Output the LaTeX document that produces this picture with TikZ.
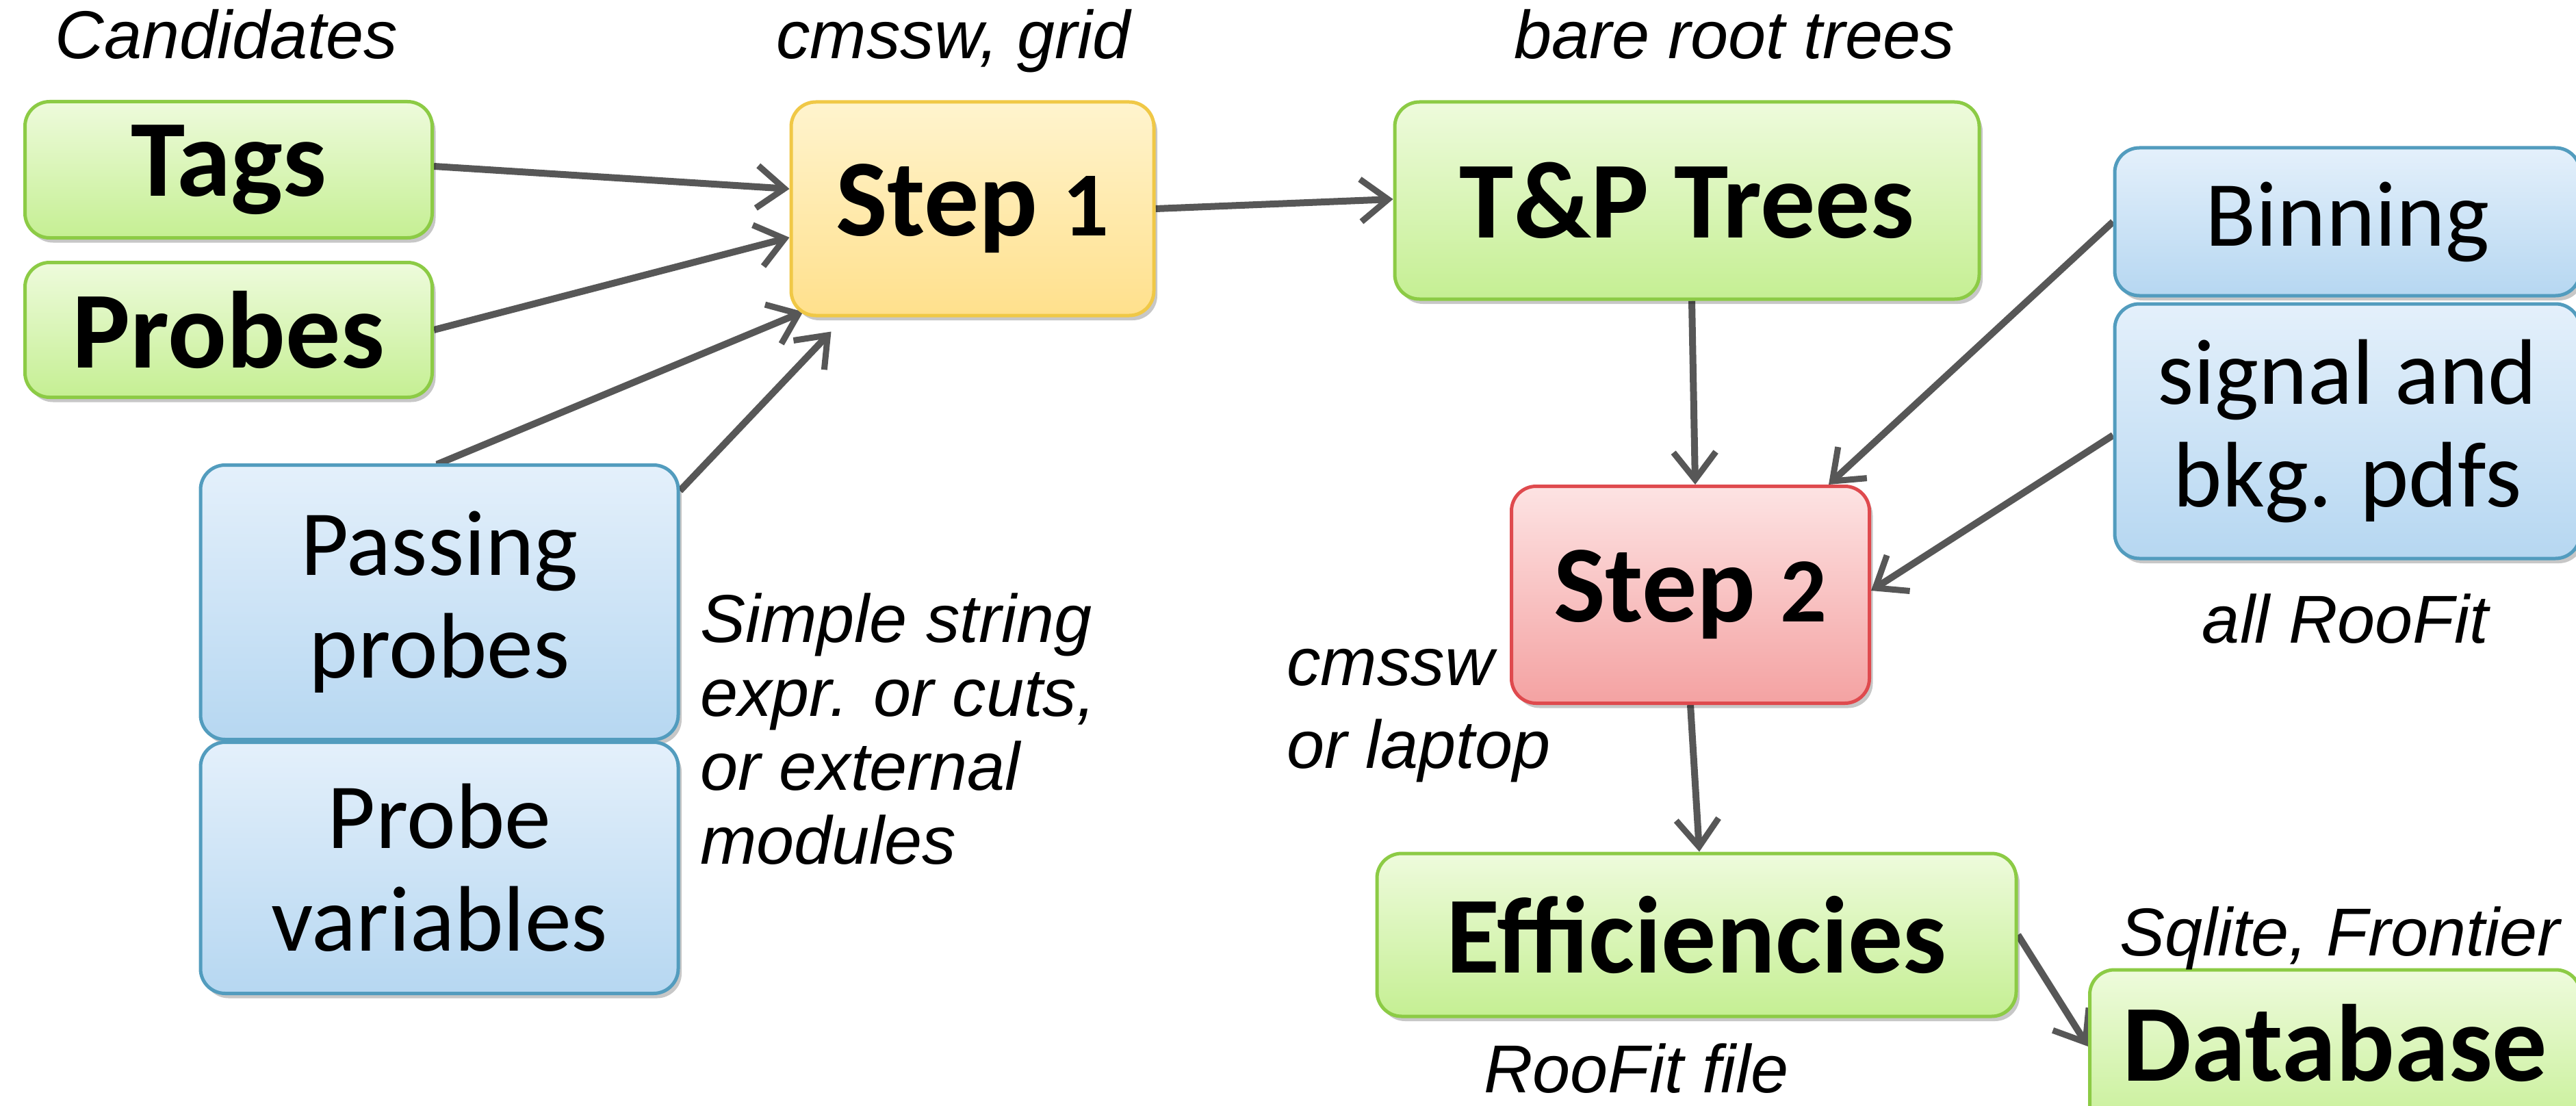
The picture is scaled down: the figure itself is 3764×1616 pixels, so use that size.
\documentclass[tikz,border=0pt]{standalone}
\usepackage{fontspec}
\setmainfont{Carlito}
\newfontfamily\annfont{Liberation Sans}
\usetikzlibrary{arrows.meta,shadows,backgrounds}
\definecolor{gT}{HTML}{EEFBDC}\definecolor{gB}{HTML}{C5EF93}\definecolor{gL}{HTML}{8CCB45}
\definecolor{yT}{HTML}{FFF4CE}\definecolor{yB}{HTML}{FFE08C}\definecolor{yL}{HTML}{F0C846}
\definecolor{rT}{HTML}{FDE3E3}\definecolor{rB}{HTML}{F4A2A2}\definecolor{rL}{HTML}{DF4A4E}
\definecolor{bT}{HTML}{E4F0FB}\definecolor{bB}{HTML}{B6D7F1}\definecolor{bL}{HTML}{529CBE}
\definecolor{arrgray}{HTML}{575757}
\newcommand{\olddig}[1]{{\fontsize{134}{134}\selectfont #1}}
\tikzset{
  box/.style={rounded corners=36pt, line width=5pt, align=center, inner sep=0pt,
    drop shadow={shadow xshift=5pt, shadow yshift=-7pt, opacity=0.22, fill=black}},
  greenbox/.style={box, draw=gL, top color=gT, bottom color=gB},
  yellowbox/.style={box, draw=yL, top color=yT, bottom color=yB},
  redbox/.style={box, draw=rL, top color=rT, bottom color=rB},
  bluebox/.style={box, draw=bL, top color=bT, bottom color=bB},
  bigtxt/.style={font=\fontsize{160}{180}\selectfont\bfseries},
  medtxt/.style={font=\fontsize{136}{150}\selectfont},
  ann/.style={font=\annfont\itshape\fontsize{99}{108}\selectfont, align=left, inner sep=0pt},
  arr/.style={draw=arrgray, line width=10pt, -{Straight Barb[length=40pt,width=62pt,line width=9pt]}}
}
\begin{document}
\begin{tikzpicture}[x=1pt,y=-1pt]
\useasboundingbox (0,0) rectangle (3764,1616);
% boxes
\node[greenbox, minimum width=595pt, minimum height=199pt, bigtxt] (tags) at (334,248) {Tags};
\node[greenbox, minimum width=595pt, minimum height=197pt, bigtxt] (probes) at (334,482) {Probes};
\node[yellowbox, minimum width=530pt, minimum height=312pt, bigtxt] (step1) at (1421,305) {Step \olddig{1}};
\node[greenbox, minimum width=854pt, minimum height=288pt, bigtxt] (tp) at (2465,293) {T\&P Trees};
\node[bluebox, minimum width=680pt, minimum height=216pt, medtxt] (binning) at (3430,324) {Binning};
\node[bluebox, minimum width=680pt, minimum height=372pt, medtxt] (sig) at (3430,630) {signal and\\bkg. pdfs};
\node[redbox, minimum width=523pt, minimum height=317pt, bigtxt] (step2) at (2470,869) {Step \olddig{2}};
\node[bluebox, minimum width=698pt, minimum height=401pt, medtxt] (pp) at (642,880) {Passing\\probes};
\node[bluebox, minimum width=698pt, minimum height=367pt, medtxt] (pv) at (642,1268) {Probe\\variables};
\node[greenbox, minimum width=934pt, minimum height=238pt, bigtxt] (eff) at (2479,1366) {Efficiencies};
\node[greenbox, minimum width=717pt, minimum height=250pt] (dbbox) at (3412,1542) {};
\node[bigtxt, inner sep=0pt] (db) at (3412,1524) {Database};
% annotations
\node[ann, anchor=base] (candl) at (331,86) {Candidates};
\node[ann, anchor=base] (gridl) at (1393,86) {cmssw, grid};
\node[ann, anchor=base] (barel) at (2534,86) {bare root trees};
\node[ann, anchor=base] (rfl) at (3427,939) {all RooFit};
\node[ann, anchor=west, font=\annfont\itshape\fontsize{99}{121}\selectfont] (cmsl) at (1880,1046) {cmssw\\or laptop};
\node[ann, anchor=west] (simpl) at (1023,1065) {Simple string\\expr. or cuts,\\or external\\modules};
\node[ann, anchor=base] (rffl) at (2391,1596) {RooFit file};
\node[ann, anchor=base] (sqll) at (3419,1396) {Sqlite, Frontier};
% connectors
\begin{scope}[on background layer]
\fill[white] (0,0) rectangle (3764,1616);
\draw[arr] ([yshift=5pt]tags.east) -- ([yshift=29pt]step1.west);
\draw[arr] (probes.east) -- ([yshift=-42pt]step1.west);
\draw[arr] ([xshift=10pt]pv.north) -- ([xshift=20pt]pp.center) -- (pp.north) -- ([xshift=20pt,yshift=8pt]step1.south west);
\draw[arr] ([yshift=-40pt]pp.north east) -- ([xshift=61pt,yshift=-21pt]step1.south west);
\draw[arr] (step1.east) -- ([yshift=2pt]tp.west);
\draw[arr] ([xshift=7pt]tp.south) -- ([xshift=7pt]step2.north);
\draw[arr] (binning.west) -- ([xshift=-62pt]step2.north east);
\draw[arr] ([yshift=-6pt]sig.west) -- ([yshift=6pt]step2.east);
\draw[arr] (step2.south) -- ([xshift=4pt]eff.north);
\draw[arr] (eff.east) -- ([yshift=-5pt]db.west -| dbbox.west);
\end{scope}
\end{tikzpicture}
\end{document}
